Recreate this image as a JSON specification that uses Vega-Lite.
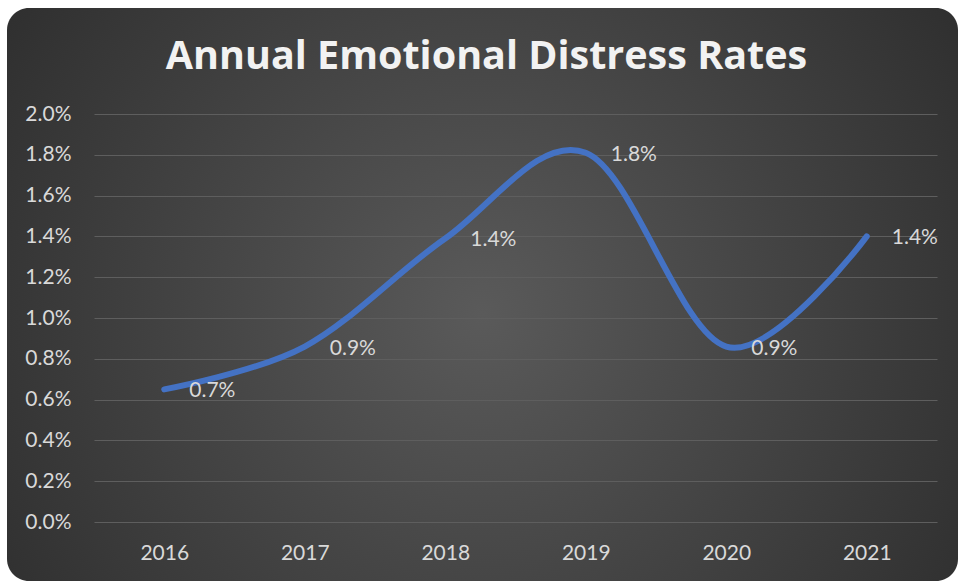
{
  "$schema": "https://vega.github.io/schema/vega-lite/v6.json",
  "width": 951,
  "height": 573,
  "autosize": {"type": "none"},
  "padding": {"left": 7, "top": 8, "right": 0, "bottom": 0},
  "background": "#ffffff",
  "title": {
    "text": "Annual Emotional Distress Rates",
    "anchor": "middle",
    "frame": "group",
    "font": "Open Sans",
    "fontSize": 39.5,
    "fontWeight": "bold",
    "color": "#f2f2f2",
    "baseline": "alphabetic",
    "offset": 0,
    "dy": 100,
    "dx": 4
  },
  "data": {
    "values": [
      {"year": "2016", "rate": 0.0065},
      {"year": "2017", "rate": 0.0086},
      {"year": "2018", "rate": 0.0139},
      {"year": "2019", "rate": 0.0181},
      {"year": "2020", "rate": 0.0086},
      {"year": "2021", "rate": 0.014}
    ]
  },
  "encoding": {
    "x": {
      "field": "year",
      "type": "ordinal",
      "scale": {"type": "point", "padding": 0.5, "range": [87, 930]},
      "axis": {
        "title": null,
        "orient": "bottom",
        "offset": -28,
        "labelAngle": 0,
        "ticks": false,
        "tickSize": 0,
        "domain": false,
        "grid": false,
        "labelPadding": 0,
        "labelBaseline": "middle",
        "labelFont": "Lato",
        "labelFontSize": 21,
        "labelColor": "#d9d9d9"
      }
    },
    "y": {
      "field": "rate",
      "type": "quantitative",
      "scale": {"domain": [0, 0.02], "range": [514, 106], "nice": false, "zero": true},
      "axis": {
        "title": null,
        "orient": "left",
        "offset": -64,
        "values": [0, 0.002, 0.004, 0.006, 0.008, 0.01, 0.012, 0.014, 0.016, 0.018, 0.02],
        "format": ".1%",
        "ticks": false,
        "tickSize": 0,
        "domain": false,
        "grid": true,
        "gridColor": "#5e5e5e",
        "gridWidth": 1,
        "labelPadding": 0,
        "labelBaseline": "middle",
        "labelAlign": "right",
        "labelFont": "Lato",
        "labelFontSize": 21,
        "labelColor": "#d9d9d9"
      }
    }
  },
  "layer": [
    {
      "mark": {"type": "line", "interpolate": "cardinal", "color": "#4472C4", "strokeWidth": 6, "strokeCap": "round"}
    },
    {
      "mark": {"type": "text", "align": "left", "baseline": "middle", "dx": 25, "dy": 2, "font": "Lato", "fontSize": 21, "color": "#d9d9d9"},
      "encoding": {"text": {"field": "rate", "type": "quantitative", "format": ".1%"}}
    }
  ],
  "config": {
    "view": {
      "stroke": null,
      "cornerRadius": 22,
      "fill": {
        "gradient": "radial",
        "x1": 0.5, "y1": 0.52, "r1": 0,
        "x2": 0.5, "y2": 0.52, "r2": 0.75,
        "stops": [
          {"offset": 0, "color": "#5a5a5a"},
          {"offset": 1, "color": "#242424"}
        ]
      }
    }
  }
}
